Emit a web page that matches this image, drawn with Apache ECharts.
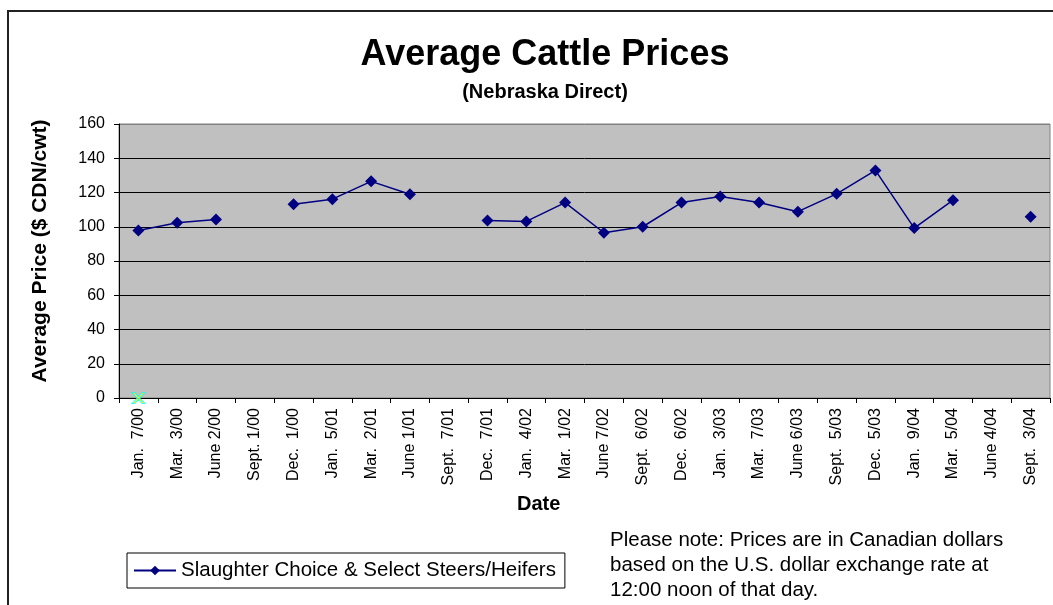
<!DOCTYPE html>
<html>
<head>
<meta charset="utf-8">
<script src="https://cdn.jsdelivr.net/npm/echarts@6/dist/echarts.min.js"></script>
<style>
    html, body { margin: 0; padding: 0; background: #fff; }
    #chart { width: 1053px; height: 605px; }
</style>
</head>
<body>
<div id="chart"></div>
<script>
// sale dates (x axis)
var dates = [
    'Jan.  7/00', 'Mar.  3/00', 'June 2/00', 'Sept. 1/00', 'Dec.  1/00', 'Jan.  5/01',
    'Mar.  2/01', 'June 1/01', 'Sept.  7/01', 'Dec.  7/01', 'Jan.  4/02', 'Mar.  1/02',
    'June 7/02', 'Sept.  6/02', 'Dec.  6/02', 'Jan.  3/03', 'Mar.  7/03', 'June 6/03',
    'Sept.  5/03', 'Dec.  5/03', 'Jan.  9/04', 'Mar.  5/04', 'June 4/04', 'Sept.  3/04'
];
// $ CDN/cwt, null = no reading
var prices = [
    97.8, 102.4, 104.3, null, 113.1, 116.1,
    126.5, 119.0, null, 103.7, 103.1, 114.1,
    96.5, 100.0, 114.1, 117.6, 114.1, 108.8,
    119.2, 132.9, 99.2, 115.5, null, 105.9
];
// stray marker sitting on the origin
var originMark = [0];
var yTicks = { min: 0, max: 160, step: 20 };

var font = 'Liberation Sans, Arial, sans-serif';
var myChart = echarts.init(document.getElementById('chart'));
var option = {
    backgroundColor: '#fff',
    animation: false,
    title: [{
        text: 'Average Cattle Prices',
        left: 540,
        top: 32,
        textAlign: 'center',
        textStyle: { fontFamily: font, fontSize: 36, fontWeight: 'bold', color: '#000' }
    }, {
        text: '(Nebraska Direct)',
        left: 540,
        top: 77,
        textAlign: 'center',
        textStyle: { fontFamily: font, fontSize: 20, fontWeight: 'bold', color: '#000' }
    }],
    grid: {
        left: 119, top: 124, right: 3, bottom: 207,
        containLabel: false,
        outerBoundsMode: 'none',
        show: true,
        backgroundColor: '#C0C0C0',
        borderColor: '#808080',
        borderWidth: 1
    },
    legend: {
        left: 127,
        top: 553,
        padding: [7, 9, 7, 6],
        itemWidth: 42,
        itemHeight: 12,
        borderColor: '#000',
        borderWidth: 1,
        backgroundColor: '#fff',
        textStyle: { fontFamily: font, fontSize: 20.5, color: '#000' },
        data: ['Slaughter Choice & Select Steers/Heifers']
    },
    xAxis: {
        type: 'category',
        data: dates,
        boundaryGap: true,
        axisLine: { lineStyle: { color: '#000', width: 1 } },
        axisTick: { show: true, length: 5, interval: 0, lineStyle: { color: '#000' } },
        axisLabel: {
            interval: 0,
            rotate: 90,
            margin: 10,
            fontFamily: font,
            fontSize: 16,
            color: '#000'
        },
        splitLine: { show: false }
    },
    yAxis: {
        type: 'value',
        min: yTicks.min,
        max: yTicks.max,
        interval: yTicks.step,
        name: 'Average Price ($ CDN/cwt)',
        nameLocation: 'middle',
        nameGap: 68,
        nameTextStyle: { fontFamily: font, fontSize: 21, fontWeight: 'bold', color: '#000', padding: [0, 0, 0, 20] },
        axisLine: { show: true, lineStyle: { color: '#000', width: 1 } },
        axisTick: { show: true, length: 5, lineStyle: { color: '#000' } },
        axisLabel: { margin: 14, fontFamily: font, fontSize: 16, color: '#000' },
        splitLine: {
            show: true,
            lineStyle: {
                width: 1,
                color: ['#000', '#000', '#000', '#000', '#000', '#000', '#000', '#000', '#808080']
            }
        }
    },
    series: [{
        name: 'Slaughter Choice & Select Steers/Heifers',
        type: 'line',
        data: prices,
        connectNulls: false,
        symbol: 'diamond',
        symbolSize: 12,
        showAllSymbol: true,
        itemStyle: { color: '#000080' },
        lineStyle: { color: '#000080', width: 1.5 },
        z: 3
    }, {
        name: 'origin',
        type: 'scatter',
        data: originMark,
        symbol: 'path://M0,0 L2,0 L5,3 L8,0 L10,0 L6,4 L10,8 L8,8 L5,5 L2,8 L0,8 L4,4 Z',
        symbolSize: [13, 11],
        itemStyle: { color: '#FFFF00', borderColor: '#00FFFF', borderWidth: 1 },
        z: 4
    }],
    graphic: [{
        type: 'polyline',
        shape: { points: [[8, 605], [8, 11], [1053, 11]] },
        style: { stroke: '#222', lineWidth: 2, fill: null }
    }, {
        type: 'text',
        left: 517,
        top: 494,
        style: { text: 'Date', font: 'bold 20px ' + font, fill: '#000' }
    }, {
        type: 'text',
        left: 610,
        top: 528,
        style: {
            text: 'Please note: Prices are in Canadian dollars\nbased on the U.S. dollar exchange rate at\n12:00 noon of that day.',
            font: '20.5px ' + font,
            lineHeight: 25,
            fill: '#000'
        }
    }]
};

option && myChart.setOption(option);
window.addEventListener('resize', () => {
    myChart.resize()
})
</script>
</body>
</html>
